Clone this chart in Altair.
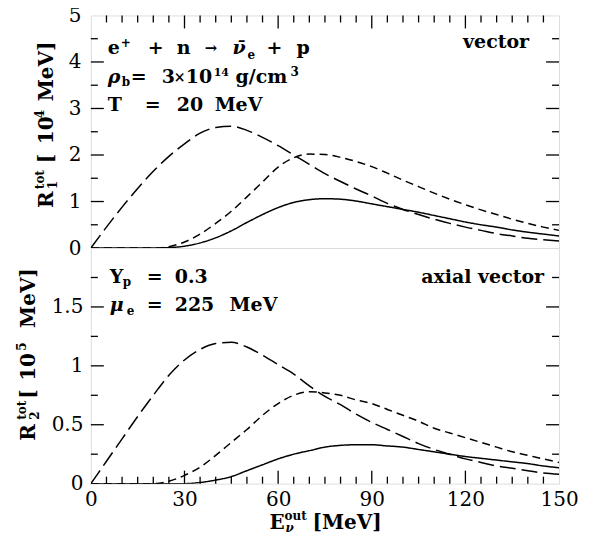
import altair as alt
import pandas as pd

# ---------------- data ----------------
E = list(range(0, 155, 5))

# top panel: R1^tot [10^4 MeV]
R1_long = [0, 0.45, 0.88, 1.28, 1.65, 1.97, 2.24, 2.47, 2.59, 2.62, 2.53, 2.38, 2.20, 2.00, 1.80,
           1.60, 1.43, 1.27, 1.12, 0.96, 0.83, 0.72, 0.62, 0.53, 0.45, 0.38, 0.31, 0.26, 0.21, 0.18, 0.15]
R1_short = [0, 0, 0, 0, 0, 0.03, 0.13, 0.30, 0.53, 0.79, 1.10, 1.42, 1.74, 1.94, 2.02,
            2.01, 1.95, 1.86, 1.75, 1.61, 1.46, 1.32, 1.18, 1.05, 0.93, 0.82, 0.72, 0.62, 0.53, 0.45, 0.38]
R1_solid = [0, 0, 0, 0, 0, 0.01, 0.04, 0.11, 0.22, 0.37, 0.55, 0.72, 0.87, 0.98, 1.04,
            1.06, 1.05, 1.01, 0.95, 0.89, 0.83, 0.77, 0.70, 0.63, 0.56, 0.50, 0.45, 0.39, 0.34, 0.30, 0.26]

# bottom panel: R2^tot [10^5 MeV]
R2_long = [0, 0.19, 0.38, 0.57, 0.75, 0.92, 1.05, 1.14, 1.19, 1.20, 1.16, 1.09, 1.01, 0.93, 0.83,
           0.74, 0.67, 0.59, 0.52, 0.46, 0.40, 0.34, 0.29, 0.25, 0.21, 0.18, 0.15, 0.13, 0.11, 0.09, 0.08]
R2_short = [0, 0, 0, 0, 0, 0.02, 0.07, 0.14, 0.24, 0.35, 0.46, 0.58, 0.68, 0.75, 0.78,
            0.77, 0.75, 0.71, 0.68, 0.63, 0.58, 0.53, 0.47, 0.43, 0.39, 0.35, 0.31, 0.27, 0.24, 0.21, 0.18]
R2_solid = [0, 0, 0, 0, 0, 0, 0, 0.01, 0.03, 0.06, 0.11, 0.16, 0.21, 0.25, 0.28,
            0.31, 0.325, 0.33, 0.33, 0.32, 0.31, 0.29, 0.27, 0.25, 0.23, 0.215, 0.20, 0.185, 0.17, 0.15, 0.135]

curves = ["long", "short", "solid"]

x_labels = [0, 30, 60, 90, 120, 150]
x_major = [30, 60, 90, 120]
x_minor = [v for v in range(5, 150, 5) if v % 30 != 0]
y1_labels = [0, 1, 2, 3, 4, 5]
y1_major = [1, 2, 3, 4]
y1_minor = [0.5, 1.5, 2.5, 3.5, 4.5]
y2_labels = [0, 0.5, 1, 1.5]
y2_major = [0.5, 1, 1.5]
y2_minor = [0.25, 0.75, 1.25, 1.75]

# ---------------- layout ----------------
W = 469
H1 = 233
H2 = 236
MAJ = 13
MIN = 7
FONT = "DejaVu Serif"

xs = alt.Scale(domain=[0, 150], nice=False, zero=False)
ys1 = alt.Scale(domain=[0, 5], nice=False)
ys2 = alt.Scale(domain=[0, 2], nice=False)
dash = alt.Scale(domain=curves, range=[[16, 6], [8, 5], [1, 0]])

axis_common = dict(ticks=False, domain=False, grid=False, labelFont=FONT, labelFontSize=20,
                   labelColor="black", title=None, labelFlush=False, labelOverlap=False)
ax_y1 = alt.Axis(values=y1_labels, format="~g", labelPadding=10, **axis_common)
ax_y2 = alt.Axis(values=y2_labels, format="~g", labelPadding=8, **axis_common)
ax_x2 = alt.Axis(values=x_labels, format="d", labelPadding=6, **axis_common)


def frame(E, series):
    rows = []
    for name, vals in zip(curves, series):
        for e, r in zip(E, vals):
            rows.append({"E": e, "R": r, "curve": name})
    return pd.DataFrame(rows)


df1 = frame(E, [R1_long, R1_short, R1_solid])
df2 = frame(E, [R2_long, R2_short, R2_solid])
one = pd.DataFrame({"k": [0]})


def lines(df, ys, xaxis, yaxis):
    return alt.Chart(df).mark_line(color="black", strokeWidth=1.5, interpolate="monotone", clip=True).encode(
        x=alt.X("E:Q", scale=xs, axis=xaxis),
        y=alt.Y("R:Q", scale=ys, axis=yaxis),
        strokeDash=alt.StrokeDash("curve:N", scale=dash, legend=None),
    )


def yticks(vals, ys, yaxis, length, tag):
    d = pd.DataFrame({"v": vals, "where": tag})
    left = alt.Chart(d).mark_rule(color="black", strokeWidth=1.3).encode(
        y=alt.Y("v:Q", scale=ys, axis=yaxis), x=alt.value(0), x2=alt.value(length))
    right = alt.Chart(d).mark_rule(color="black", strokeWidth=1.3).encode(
        y=alt.Y("v:Q", scale=ys, axis=yaxis), x=alt.value(W), x2=alt.value(W - length))
    return [left, right]


def xticks_top(vals, length):
    d = pd.DataFrame({"v": vals, "where": "top"})
    return [alt.Chart(d).mark_rule(color="black", strokeWidth=1.3).encode(
        x=alt.X("v:Q", scale=xs, axis=None), y=alt.value(0), y2=alt.value(length))]


def xticks_bottom(vals, xaxis, length):
    # short vertical tick marks standing on the bottom edge, pointing inward
    d = pd.DataFrame({"v": vals, "where": "bottom"})
    return [alt.Chart(d).mark_tick(color="black", thickness=1.3, size=length, orient="vertical",
                                   opacity=1).encode(
        x=alt.X("v:Q", scale=xs, axis=xaxis),
        y=alt.value(H2 - length / 2))]


def piece(s, x, y, size=19, angle=0, align="left", italic=False, bold=True):
    kw = dict(text=s, fontSize=size, font=FONT, fontWeight="bold" if bold else "normal",
              align=align, baseline="alphabetic", color="black")
    if angle:
        kw["angle"] = angle
    if italic:
        kw["fontStyle"] = "italic"
    return alt.Chart(one).mark_text(**kw).encode(x=alt.value(x), y=alt.value(y))


# ---------------- top panel ----------------
top_layers = [lines(df1, ys1, None, ax_y1)]
top_layers += yticks(y1_major, ys1, ax_y1, MAJ, "top") + yticks(y1_minor, ys1, ax_y1, MIN, "top")
top_layers += xticks_top(x_major, MAJ) + xticks_top(x_minor, MIN)

# annotation: e+ + n -> nubar_e + p ; rho_b = 3x10^14 g/cm^3 ; T = 20 MeV
top_layers += [
    piece("e", 17, 39), piece("+", 30, 32, size=12),
    piece("+", 57, 39), piece("n", 86, 39), piece("→", 114, 38, size=15),
    piece("ν̄", 142, 39, italic=True), piece("e", 157, 44, size=12),
    piece("+", 176, 39), piece("p", 206, 39),
    piece("ρ", 17, 68, italic=True), piece("b", 31, 71, size=12), piece("=", 40, 68),
    piece("3", 71, 68), piece("×", 83, 67, size=14), piece("10", 95, 68), piece("14", 123, 61, size=11),
    piece("g/cm", 145, 68), piece("3", 200, 61, size=12),
    piece("T", 17, 96), piece("=", 54, 96), piece("20", 86, 96), piece("MeV", 124, 96),
    piece("vector", 439, 33, align="right"),
]
# y title (rotated): R_1^tot [10^4 MeV]
top_layers += [
    piece("R", -38, 193, size=20, angle=270),
    piece("tot", -47, 174, size=12, angle=270),
    piece("1", -34, 174, size=12, angle=270),
    piece("[", -38, 148, size=20, angle=270),
    piece("10", -38, 129, size=20, angle=270),
    piece("4", -47, 103, size=12, angle=270),
    piece("MeV]", -38, 86, size=20, angle=270),
]
top = alt.layer(*top_layers).properties(width=W, height=H1)

# ---------------- bottom panel ----------------
bot_layers = [lines(df2, ys2, ax_x2, ax_y2)]
bot_layers += yticks(y2_major, ys2, ax_y2, MAJ, "bottom") + yticks(y2_minor, ys2, ax_y2, MIN, "bottom")
bot_layers += xticks_bottom(x_major, ax_x2, MAJ) + xticks_bottom(x_minor, ax_x2, MIN)
bot_layers += [
    piece("Y", 19, 35), piece("p", 32, 38, size=12), piece("=", 56, 35), piece("0.3", 84, 35),
    piece("μ", 19, 63, italic=True), piece("e", 36, 67, size=12), piece("=", 56, 63),
    piece("225", 84, 63), piece("MeV", 139, 63),
    piece("axial vector", 454, 35, align="right"),
    # x title: E_nu^out [MeV]
    piece("E", 179, 281, size=20), piece("out", 194, 272, size=12),
    piece("ν", 195, 284, size=12, italic=True), piece("[MeV]", 222, 281, size=20),
    # y title (rotated): R_2^tot [10^5 MeV]
    piece("R", -56, 193, size=20, angle=270),
    piece("tot", -65, 172, size=12, angle=270),
    piece("2", -52, 172, size=12, angle=270),
    piece("[", -56, 151, size=20, angle=270),
    piece("10", -56, 133, size=20, angle=270),
    piece("5", -65, 103, size=12, angle=270),
    piece("MeV]", -56, 80, size=20, angle=270),
]
bottom = alt.layer(*bot_layers).properties(width=W, height=H2)

chart = alt.vconcat(top, bottom, spacing=0, bounds="flush").properties(
    padding={"left": 7, "top": -4, "right": 5, "bottom": 5},
).configure_view(stroke="black", strokeWidth=1.6).configure(background="white")

chart.save("out.html", embed_options={"renderer": "svg", "actions": False})
